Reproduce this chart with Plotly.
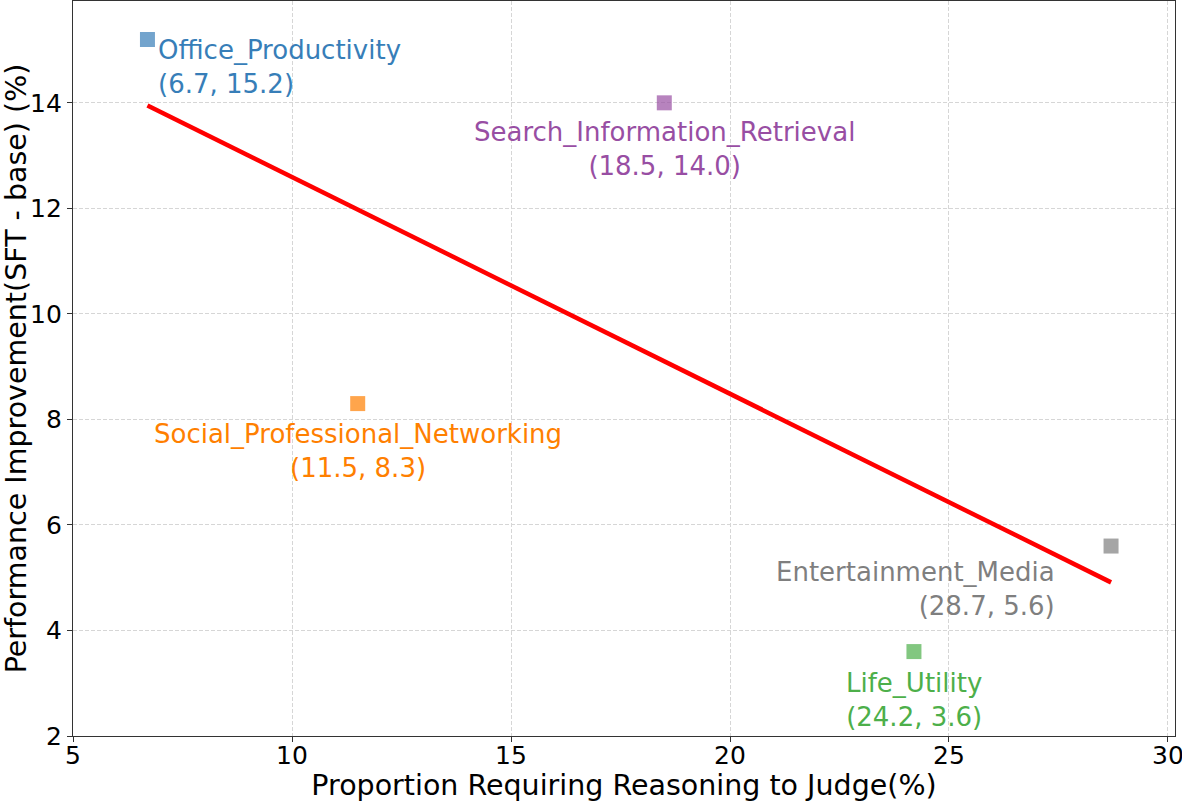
import numpy as np
import plotly.graph_objects as go

categories = ["Office_Productivity", "Search_Information_Retrieval",
              "Social_Professional_Networking", "Entertainment_Media", "Life_Utility"]
reasoning_pct = [6.7, 18.5, 11.5, 28.7, 24.2]
improvement_pct = [15.2, 14.0, 8.3, 5.6, 3.6]
colors = ["#377eb8", "#984ea3", "#ff7f00", "#7f7f7f", "#4daf4a"]
x_ticks = [5, 10, 15, 20, 25, 30]
y_ticks = [2, 4, 6, 8, 10, 12, 14]

# label placement: (xanchor, align, xshift, yshift)
label_pos = [
    ("left", "left", 9, -27),
    ("center", "center", 0, -46),
    ("center", "center", 0, -47),
    ("right", "right", -54, -43),
    ("center", "center", 0, -48),
]

FONT = "DejaVu Sans"
fig = go.Figure()

# least-squares regression line over the data range
slope, intercept = np.polyfit(reasoning_pct, improvement_pct, 1)
xs = np.array([min(reasoning_pct), max(reasoning_pct)])
fig.add_trace(go.Scatter(x=xs, y=slope * xs + intercept, mode="lines",
                         line=dict(color="#ff0000", width=4.5), showlegend=False,
                         hoverinfo="skip"))

for i, name in enumerate(categories):
    fig.add_trace(go.Scatter(
        x=[reasoning_pct[i]], y=[improvement_pct[i]], mode="markers",
        marker=dict(symbol="square", size=15, color=colors[i], opacity=0.7,
                    line=dict(width=0)),
        showlegend=False, name=name))
    xa, al, xsh, ysh = label_pos[i]
    fig.add_annotation(
        x=reasoning_pct[i], y=improvement_pct[i], xref="x", yref="y",
        text=f"{name}<br>({reasoning_pct[i]:.1f}, {improvement_pct[i]:.1f})",
        showarrow=False, xanchor=xa, yanchor="middle", align=al,
        xshift=xsh, yshift=ysh,
        font=dict(family=FONT, size=26, color=colors[i]))

axis_common = dict(
    showline=True, linecolor="#333333", linewidth=1.3, mirror=True,
    showgrid=True, gridcolor="#d6d6d6", griddash="4px,2px", gridwidth=1,
    ticks="outside", ticklen=5, tickcolor="#333333", tickwidth=1.3,
    tickfont=dict(family=FONT, size=25, color="#000000"),
    zeroline=False, automargin=False, ticklabeloverflow="allow",
)

fig.update_layout(
    width=1182, height=802, autosize=False,
    plot_bgcolor="white", paper_bgcolor="white",
    margin=dict(l=73, r=7, t=1, b=66),
    xaxis=dict(range=[5, 30.16], tickvals=x_ticks, ticklabelstandoff=-8,
               title=dict(text="Proportion Requiring Reasoning to Judge(%)",
                          font=dict(family=FONT, size=28.5, color="#000000"),
                          standoff=12),
               **axis_common),
    yaxis=dict(range=[2, 15.93], tickvals=y_ticks,
               title=dict(text="Performance Improvement(SFT - base) (%)",
                          font=dict(family=FONT, size=28.5, color="#000000"),
                          standoff=14),
               **axis_common),
)

fig.write_html("out.html", config={"displayModeBar": False},
               post_script="document.body.style.margin='0';"
                           "document.body.style.overflow='hidden';")
